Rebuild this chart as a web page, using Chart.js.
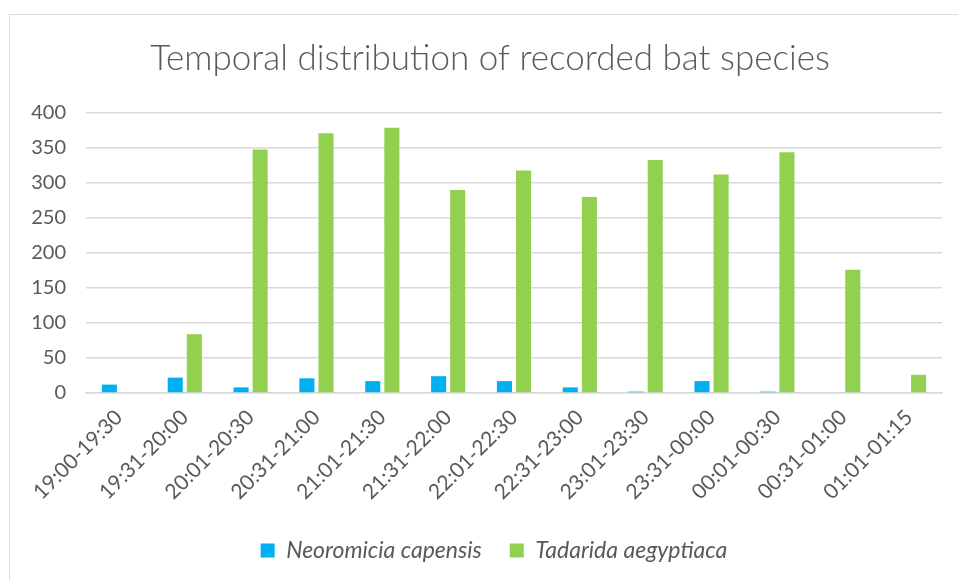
<!DOCTYPE html>
<html>
<head>
<meta charset="utf-8">
<script src="https://cdn.jsdelivr.net/npm/chart.js@4/dist/chart.umd.min.js"></script>
<style>
  html, body { margin: 0; padding: 0; background: #fff; }
  #wrap { position: relative; width: 958px; height: 580px; }
  #frame { position: absolute; left: 9px; top: 14px; width: 960px; height: 580px; border: 1px solid #d9d9d9; }
  canvas { position: absolute; left: 0; top: 0; }
</style>
</head>
<body>
<div id="wrap">
  <div id="frame"></div>
  <canvas id="batChart" width="958" height="580"></canvas>
</div>
<script>
  var timeSlots = ["19:00-19:30", "19:31-20:00", "20:01-20:30", "20:31-21:00", "21:01-21:30",
    "21:31-22:00", "22:01-22:30", "22:31-23:00", "23:01-23:30", "23:31-00:00",
    "00:01-00:30", "00:31-01:00", "01:01-01:15"];
  var neoromicia = [12, 22, 8, 21, 17, 24, 17, 8, 2, 17, 2, 0, 0];
  var tadarida = [0, 84, 348, 371, 379, 290, 318, 280, 333, 312, 344, 176, 26];
  var yTicks = [0, 50, 100, 150, 200, 250, 300, 350, 400];

  var grey = '#595959';
  var fontFamily = 'Lato, "Open Sans", sans-serif';

  // title and legend are centred on the whole frame, not on the plot area
  var centreShift = {
    id: 'centreShift',
    afterLayout: function(chart) {
      chart.titleBlock.left += 28;
      chart.legend.left += 36;
    }
  };

  var ctx = document.getElementById('batChart').getContext('2d');
  var batChart = new Chart(ctx, {
    type: 'bar',
    data: {
      labels: timeSlots,
      datasets: [{
        label: 'Neoromicia capensis',
        data: neoromicia,
        backgroundColor: '#00B0F0'
      }, {
        label: 'Tadarida aegyptiaca',
        data: tadarida,
        backgroundColor: '#92D050'
      }]
    },
    options: {
      responsive: false,
      animation: false,
      layout: { padding: { left: 10, right: 16, top: 0, bottom: 8 } },
      datasets: {
        bar: { categoryPercentage: 0.58, barPercentage: 0.79 }
      },
      plugins: {
        title: {
          display: true,
          text: 'Temporal distribution of recorded bat species',
          color: grey,
          font: { family: fontFamily, size: 35, weight: '300' },
          padding: { top: 38, bottom: 33 }
        },
        legend: {
          position: 'bottom',
          labels: {
            color: grey,
            boxWidth: 14,
            boxHeight: 14,
            padding: 28,
            font: { family: fontFamily, size: 23, style: 'italic' }
          }
        },
        tooltip: { enabled: false }
      },
      scales: {
        x: {
          grid: { display: false },
          border: { color: '#d9d9d9', width: 1.5 },
          ticks: {
            color: grey,
            maxRotation: 45,
            minRotation: 45,
            padding: 4,
            font: { family: fontFamily, size: 21 }
          },
          afterFit: function(scale) { scale.height = 118; }
        },
        y: {
          min: 0,
          max: 400,
          afterBuildTicks: function(scale) {
            scale.ticks = yTicks.map(function(v) { return { value: v }; });
          },
          grid: { color: '#d9d9d9', lineWidth: 1.5, drawTicks: false },
          border: { display: false },
          ticks: {
            color: grey,
            padding: 20,
            font: { family: fontFamily, size: 20 }
          },
          afterFit: function(scale) { scale.width = 76; }
        }
      }
    },
    plugins: [centreShift]
  });
</script>
</body>
</html>
